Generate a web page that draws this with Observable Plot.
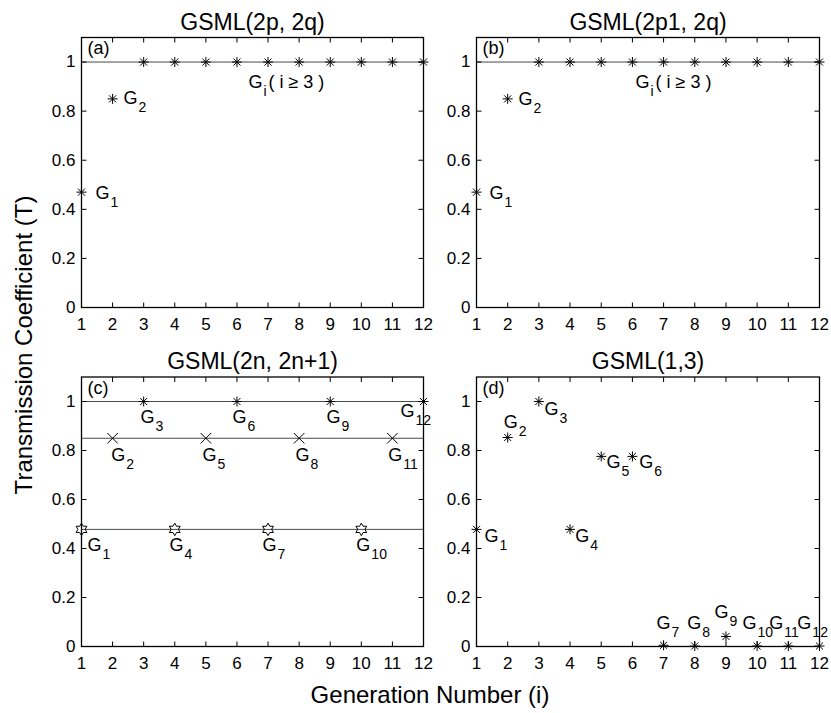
<!DOCTYPE html>
<html><head><meta charset="utf-8">
<script src="https://cdn.jsdelivr.net/npm/d3@7"></script>
<script src="https://cdn.jsdelivr.net/npm/@observablehq/plot@0.6"></script>
<style>
body{margin:0;background:#fff;}
#fig{position:relative;width:831px;height:713px;background:#fff;font-family:"Liberation Sans",Arial,Helvetica,sans-serif;color:#000;overflow:hidden;}
.panel{position:absolute;}
.lab{position:absolute;font-size:24px;white-space:nowrap;line-height:1;}
</style></head><body><div id="fig"></div>
<script>
// ---------------- data ----------------
const generations = [1,2,3,4,5,6,7,8,9,10,11,12];
const xTicks = [1,2,3,4,5,6,7,8,9,10,11,12];
const yTicks = [0,0.2,0.4,0.6,0.8,1];
const yTickLabels = ["0","0.2","0.4","0.6","0.8","1"];
const titles = ["GSML(2p, 2q)","GSML(2p1, 2q)","GSML(2n, 2n+1)","GSML(1,3)"];
const panelLetters = ["(a)","(b)","(c)","(d)"];

// panel (a)
const tA = [0.47,0.85,1,1,1,1,1,1,1,1,1,1];
const markersA = ["ast","ast","ast","ast","ast","ast","ast","ast","ast","ast","ast","ast"];
const levelsA = [1];
const labelsA = [{x:1.45,y:0.465,sub:"1"},{x:2.35,y:0.853,sub:"2"},{x:6.37,y:0.918,sub:"i",rest:"( i \u2265 3 )"}];

// panel (b)
const tB = [0.47,0.85,1,1,1,1,1,1,1,1,1,1];
const markersB = markersA;
const levelsB = [1];
const labelsB = [{x:1.42,y:0.465,sub:"1"},{x:2.35,y:0.848,sub:"2"},{x:6.1,y:0.918,sub:"i",rest:"( i \u2265 3 )"}];

// panel (c)
const tC = [0.478,0.85,1,0.478,0.85,1,0.478,0.85,1,0.478,0.85,1];
const markersC = ["hex","times","ast","hex","times","ast","hex","times","ast","hex","times","ast"];
const levelsC = [1,0.85,0.478];
const labelsC = [
  {x:1.19,y:0.412,sub:"1"},{x:1.96,y:0.78,sub:"2"},{x:2.90,y:0.935,sub:"3"},
  {x:3.83,y:0.412,sub:"4"},{x:4.89,y:0.78,sub:"5"},{x:5.86,y:0.935,sub:"6"},
  {x:6.82,y:0.412,sub:"7"},{x:7.88,y:0.78,sub:"8"},{x:8.88,y:0.935,sub:"9"},
  {x:9.84,y:0.412,sub:"10"},{x:10.87,y:0.78,sub:"11"},{x:11.26,y:0.96,sub:"12"}];

// panel (d)
const tD = [0.478,0.853,1.0,0.478,0.776,0.776,0.005,0.002,0.041,0.002,0.002,0.002];
const markersD = markersA;
const levelsD = [];
const labelsD = [
  {x:1.26,y:0.449,sub:"1"},{x:1.87,y:0.914,sub:"2"},{x:3.18,y:0.967,sub:"3"},
  {x:4.17,y:0.449,sub:"4"},{x:5.17,y:0.751,sub:"5"},{x:6.22,y:0.751,sub:"6"},
  {x:6.77,y:0.094,sub:"7"},{x:7.76,y:0.094,sub:"8"},{x:8.63,y:0.139,sub:"9"},
  {x:9.53,y:0.094,sub:"10"},{x:10.39,y:0.094,sub:"11"},{x:11.29,y:0.094,sub:"12"}];

// ---------------- symbols ----------------
const symbols = {
  ast: {draw(ctx, size){ const r = Math.sqrt(size/Math.PI); const d = r*Math.SQRT1_2;
    ctx.moveTo(-r,0); ctx.lineTo(r,0); ctx.moveTo(0,-r); ctx.lineTo(0,r);
    ctx.moveTo(-d,-d); ctx.lineTo(d,d); ctx.moveTo(-d,d); ctx.lineTo(d,-d); }},
  times: {draw(ctx, size){ const d = Math.sqrt(size/Math.PI)*1.05;
    ctx.moveTo(-d,-d); ctx.lineTo(d,d); ctx.moveTo(-d,d); ctx.lineTo(d,-d); }},
  hex: {draw(ctx, size){ const R = Math.sqrt(size/Math.PI)*1.25; const r = R/Math.sqrt(3);
    for (let k=0;k<12;k++){ const a = -Math.PI/2 + k*Math.PI/6; const rr = k%2 ? r : R;
      const x = rr*Math.cos(a), y = rr*Math.sin(a); if (k) ctx.lineTo(x,y); else ctx.moveTo(x,y); }
    ctx.closePath(); }}
};
// inward tick glyphs (drawn from the frame edge towards the inside)
const tickGlyph = (ux, uy) => ({draw(ctx, size){ const l = Math.sqrt(size/Math.PI);
  ctx.moveTo(0,0); ctx.lineTo(ux*l, uy*l); }});
const tickUp = tickGlyph(0,-1), tickDown = tickGlyph(0,1), tickRight = tickGlyph(1,0), tickLeft = tickGlyph(-1,0);

const FONT = "'Liberation Sans', Arial, Helvetica, sans-serif";
const fig = document.getElementById("fig");
const TICK = 5;

function panel({idx, T, markers, levels, labels, left, top, width, height, margins}) {
  const pts = generations.map((g,i)=>({g, t:T[i], m:markers[i]}));
  const tickStyle = {r:TICK, stroke:"black", strokeWidth:1, fill:"none"};
  const marks = [
    Plot.ruleY(levels, {stroke:"#4a4a4a", strokeWidth:1}),
    // inward ticks on all four sides
    Plot.dot(xTicks, {x:(d)=>d, frameAnchor:"bottom", symbol:tickUp, ...tickStyle}),
    Plot.dot(xTicks, {x:(d)=>d, frameAnchor:"top", symbol:tickDown, ...tickStyle}),
    Plot.dot(yTicks, {y:(d)=>d, frameAnchor:"left", symbol:tickRight, ...tickStyle}),
    Plot.dot(yTicks, {y:(d)=>d, frameAnchor:"right", symbol:tickLeft, ...tickStyle}),
    // tick labels
    Plot.axisX(xTicks, {anchor:"bottom", tickSize:0, tickPadding:10, label:null, fontSize:17}),
    Plot.axisY(yTicks, {anchor:"left", tickSize:0, tickPadding:6, label:null, fontSize:17,
      tickFormat:(d)=>yTickLabels[yTicks.indexOf(d)]}),
    Plot.frame({stroke:"black", strokeWidth:1.3}),
    ...Object.keys(symbols).map(name => Plot.dot(pts.filter(d=>d.m===name),
      {x:"g", y:"t", symbol:symbols[name], r:5, stroke:"black", fill:"none", strokeWidth:1})),
    Plot.text(labels, {x:"x", y:"y", text:()=>"G", textAnchor:"start", lineAnchor:"middle", fontSize:18}),
    Plot.text(labels, {x:"x", y:"y", text:"sub", dx:15, dy:9, textAnchor:"start", lineAnchor:"middle", fontSize:14}),
    Plot.text(labels.filter(d=>d.rest), {x:"x", y:"y", text:"rest", dx:20, textAnchor:"start", lineAnchor:"middle", fontSize:18}),
    Plot.text([panelLetters[idx]], {frameAnchor:"top-left", dx:6, dy:11, textAnchor:"start", lineAnchor:"middle", fontSize:18}),
    Plot.text([titles[idx]], {frameAnchor:"top", dy:-15, lineAnchor:"middle", fontSize:23})
  ];
  const svg = Plot.plot({
    width, height,
    marginLeft:margins[0], marginRight:margins[1], marginTop:margins[2], marginBottom:margins[3],
    style:{fontFamily:FONT, fontSize:"17px", background:"transparent", overflow:"visible", color:"black"},
    x:{domain:[1,12]},
    y:{domain:[0,1.1]},
    marks
  });
  const div = document.createElement("div");
  div.className = "panel";
  div.style.left = left+"px"; div.style.top = top+"px";
  div.appendChild(svg);
  fig.appendChild(div);
}

panel({idx:0, T:tA, markers:markersA, levels:levelsA, labels:labelsA, left:0, top:0, width:440, height:340, margins:[81,17,37,33]});
panel({idx:1, T:tB, markers:markersB, levels:levelsB, labels:labelsB, left:440, top:0, width:391, height:340, margins:[36,12,37,33]});
panel({idx:2, T:tC, markers:markersC, levels:levelsC, labels:labelsC, left:0, top:340, width:440, height:340, margins:[81,17,36.5,34]});
panel({idx:3, T:tD, markers:markersD, levels:levelsD, labels:labelsD, left:440, top:340, width:391, height:340, margins:[36,12,36.5,34]});

// shared axis labels
const yl = document.createElement("div");
yl.className = "lab";
yl.textContent = "Transmission Coefficient (T)";
yl.style.left = "24px"; yl.style.top = "345px";
yl.style.transform = "translate(-50%,-50%) rotate(-90deg)";
fig.appendChild(yl);

const xl = document.createElement("div");
xl.className = "lab";
xl.textContent = "Generation Number (i)";
xl.style.left = "430px"; xl.style.top = "695px";
xl.style.transform = "translate(-50%,-50%)";
fig.appendChild(xl);
</script>
</body></html>
